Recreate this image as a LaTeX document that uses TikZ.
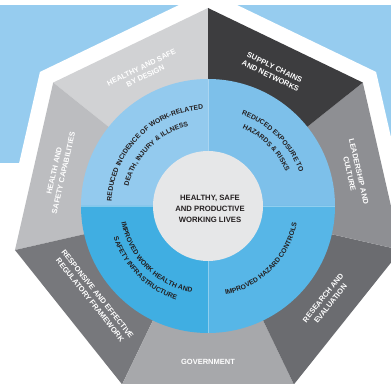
\documentclass[tikz,border=0pt]{standalone}
\usepackage{fontspec}
\setmainfont{Liberation Sans}
\usetikzlibrary{decorations.text,calc}
\definecolor{bgblue}{HTML}{96CCEF}
\definecolor{segA}{HTML}{D1D2D4}
\definecolor{segB}{HTML}{BCBDC0}
\definecolor{segC}{HTML}{77787C}
\definecolor{segD}{HTML}{A7A8AB}
\definecolor{segE}{HTML}{6B6C70}
\definecolor{segF}{HTML}{8E8F93}
\definecolor{segG}{HTML}{3D3D3F}
\definecolor{ringTL}{HTML}{93CAEE}
\definecolor{ringTR}{HTML}{7DC0EA}
\definecolor{ringBL}{HTML}{40AEE2}
\definecolor{ringBR}{HTML}{57B6E7}
\definecolor{corefill}{HTML}{E6E7E8}
\definecolor{textdark}{HTML}{231F20}
\newcommand\ringfont{\bfseries\fontsize{6.8}{7}\selectfont}
\begin{document}
\begin{tikzpicture}[x=1pt,y=1pt,
  seglabel/.style={font=\bfseries\fontsize{7.5}{9.5}\selectfont, text=white, align=center, inner sep=0pt},
  ringtext/.style={decorate, decoration={text along path, text align=center, text color=textdark, text={|\ringfont|#1}}}]
\useasboundingbox (0,0) rectangle (391,383);
\clip (0,0) rectangle (391,383);
\coordinate (C) at (208,177);
% background
\fill[bgblue] (0,220) rectangle (391,378);
% white outer heptagon
\fill[white] ($(C)+(90:215)$) -- ($(C)+(141.4286:215)$) -- ($(C)+(192.8571:215)$) -- ($(C)+(244.2857:215)$) -- ($(C)+(295.7143:215)$) -- ($(C)+(347.1429:215)$) -- ($(C)+(398.5714:215)$) -- cycle;
% segments
\foreach \k/\col in {0/segA,1/segB,2/segC,3/segD,4/segE,5/segF,6/segG}{
  \fill[\col] (C) -- ($(C)+({90+\k*51.4286}:198)$) -- ($(C)+({90+(\k+1)*51.4286}:198)$) -- cycle;
}
% ring quadrants
\fill[ringTL] (C) -- ++(180:127) arc[start angle=180,end angle=90,radius=127] -- cycle;
\fill[ringTR] (C) -- ++(90:127) arc[start angle=90,end angle=0,radius=127] -- cycle;
\fill[ringBR] (C) -- ++(0:127) arc[start angle=360,end angle=270,radius=127] -- cycle;
\fill[ringBL] (C) -- ++(270:127) arc[start angle=270,end angle=180,radius=127] -- cycle;
\draw[white, opacity=0.35, line width=0.6] ($(C)+(-127,0)$) -- ($(C)+(127,0)$);
\draw[white, opacity=0.35, line width=0.6] ($(C)+(0,-127)$) -- ($(C)+(0,127)$);
% core
\node[circle, fill=corefill, minimum size=110pt, inner sep=0pt] (core) at (C) {};
\node[font=\bfseries\fontsize{7.7}{11}\selectfont, align=center, text=textdark, inner sep=0pt] (title) at ($(C)+(2,-3)$) {HEALTHY, SAFE\\AND PRODUCTIVE\\WORKING LIVES};
% ring texts
\path[ringtext={REDUCED INCIDENCE OF WORK-RELATED}] ($(C)+(180:96.5)$) arc[start angle=180,end angle=90,radius=96.5];
\path[ringtext={DEATH, INJURY {\&} ILLNESS}] ($(C)+(180:82)$) arc[start angle=180,end angle=90,radius=82];
\path[ringtext={REDUCED EXPOSURE TO}] ($(C)+(90:97.5)$) arc[start angle=90,end angle=0,radius=97.5];
\path[ringtext={HAZARDS {\&} RISKS}] ($(C)+(90:85)$) arc[start angle=90,end angle=0,radius=85];
\path[ringtext={IMPROVED WORK HEALTH AND}] ($(C)+(180:88)$) arc[start angle=180,end angle=270,radius=88];
\path[ringtext={SAFETY INFRASTRUCTURE}] ($(C)+(180:99.5)$) arc[start angle=180,end angle=270,radius=99.5];
\path[ringtext={IMPROVED HAZARD CONTROLS}] ($(C)+(270:90.5)$) arc[start angle=270,end angle=360,radius=90.5];
% segment labels
\node[seglabel, rotate=25.71] (design) at ($(C)+(115.71:149)$) {HEALTHY AND SAFE\\BY DESIGN};
\node[seglabel, rotate=-25.71] (supply) at ($(C)+(64.29:149)$) {SUPPLY CHAINS\\AND NETWORKS};
\node[seglabel, rotate=-77.14] (leader) at ($(C)+(12.86:150)$) {LEADERSHIP AND\\CULTURE};
\node[seglabel, rotate=51.43] (research) at ($(C)+(321.43:152)$) {RESEARCH AND\\EVALUATION};
\node[seglabel] (gov) at ($(C)+(270:156)$) {GOVERNMENT};
\node[seglabel, rotate=-51.43] (regul) at ($(C)+(218.57:146)$) {RESPONSIVE AND EFFECTIVE\\REGULATORY FRAMEWORK};
\node[seglabel, rotate=77.14] (capab) at ($(C)+(167.14:153)$) {HEALTH AND\\SAFETY CAPABILITIES};
\end{tikzpicture}
\end{document}
